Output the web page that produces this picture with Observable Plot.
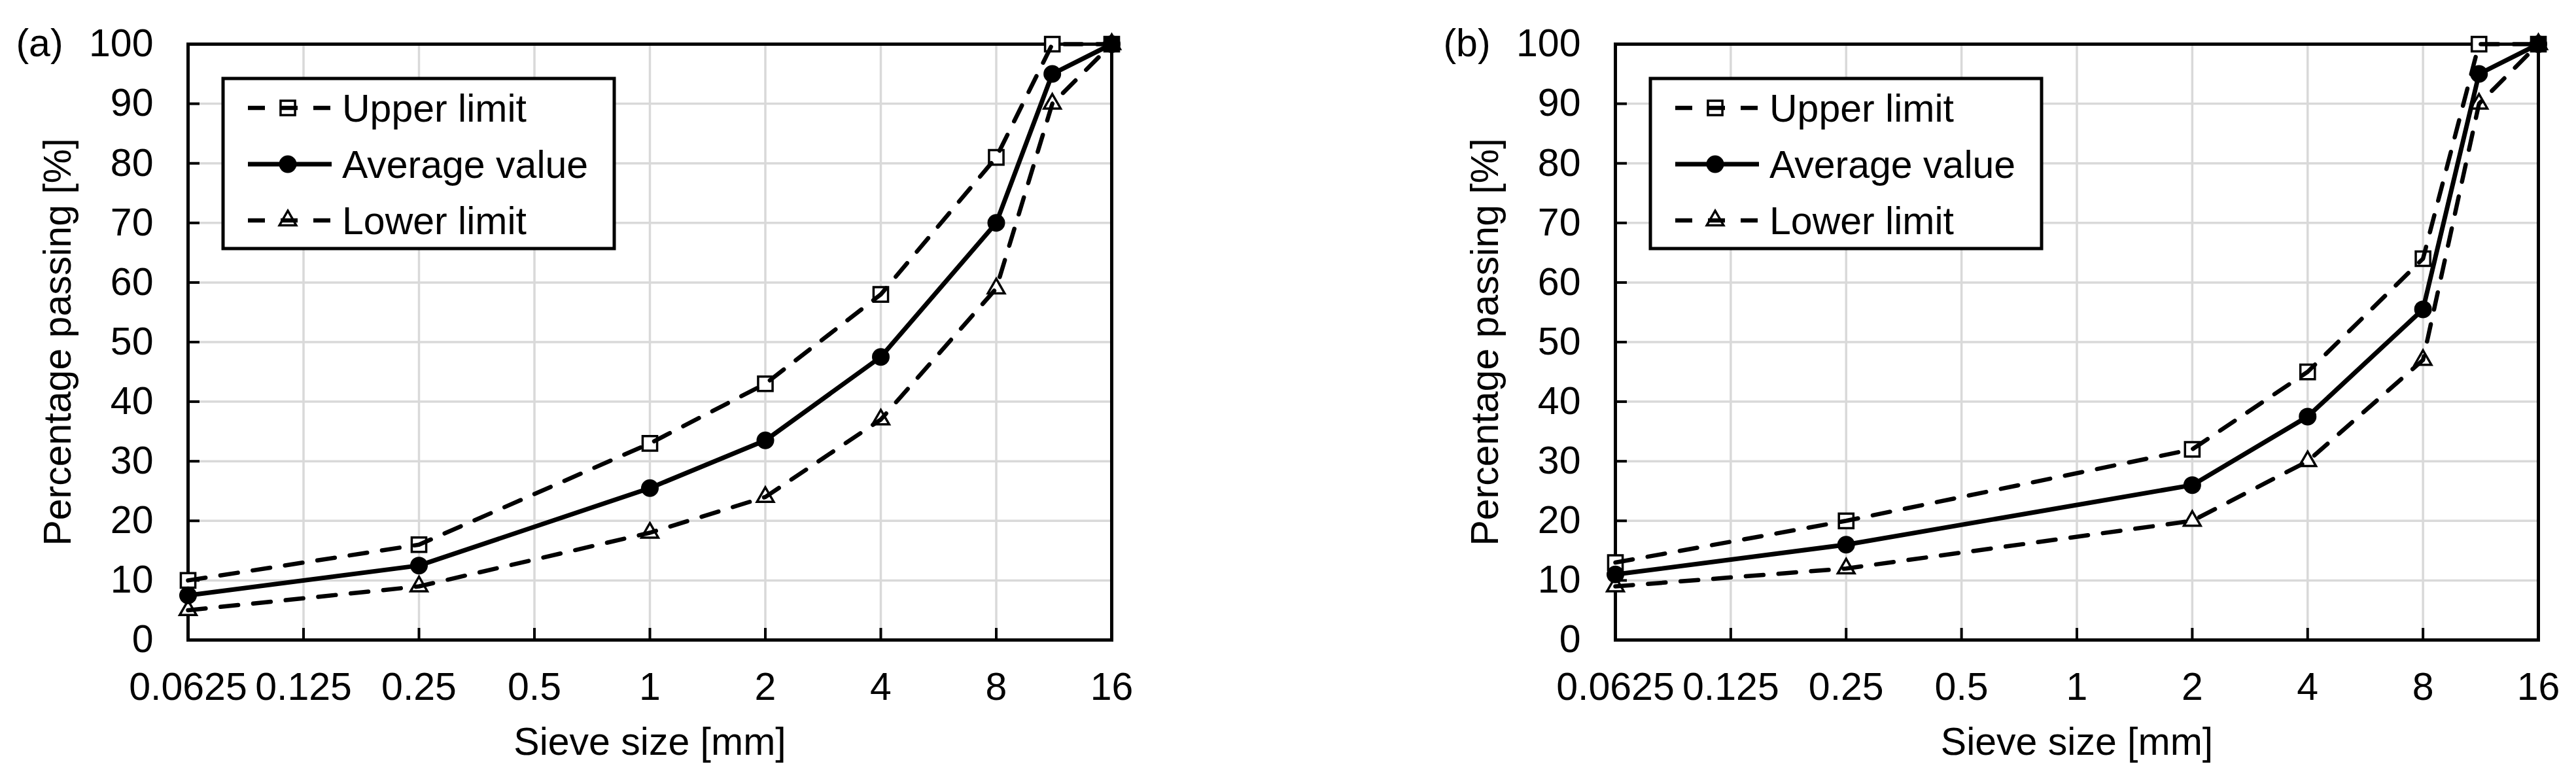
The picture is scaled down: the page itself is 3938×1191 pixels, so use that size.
<!DOCTYPE html>
<html>
<head>
<meta charset="utf-8">
<script src="https://cdn.jsdelivr.net/npm/d3@7"></script>
<script src="https://cdn.jsdelivr.net/npm/@observablehq/plot@0.6"></script>
<style>
  html, body { margin: 0; padding: 0; background: #fff; }
  #wrap { position: relative; width: 3938px; height: 1191px; overflow: hidden; background: #fff; }
  #wrap > div { position: absolute; top: 0; }
</style>
</head>
<body>
<div id="wrap">
  <div id="pa" style="left:0px"></div>
  <div id="pb" style="left:1969px"></div>
</div>
<script>
// ---------- data ----------
const xTicks = [0.0625, 0.125, 0.25, 0.5, 1, 2, 4, 8, 16];
const xTickLabels = ["0.0625", "0.125", "0.25", "0.5", "1", "2", "4", "8", "16"];
const yTicks = [0, 10, 20, 30, 40, 50, 60, 70, 80, 90, 100];
const yTickLabels = ["0", "10", "20", "30", "40", "50", "60", "70", "80", "90", "100"];

const sieveA   = [0.0625, 0.25, 1, 2, 4, 8, 11.2, 16];
const upperA   = [10, 16, 33, 43, 58, 81, 100, 100];
const averageA = [7.5, 12.5, 25.5, 33.5, 47.5, 70, 95, 100];
const lowerA   = [5, 9, 18, 24, 37, 59, 90, 100];

const sieveB   = [0.0625, 0.25, 2, 4, 8, 11.2, 16];
const upperB   = [13, 20, 32, 45, 64, 100, 100];
const averageB = [11, 16, 26, 37.5, 55.5, 95, 100];
const lowerB   = [9, 12, 20, 30, 47, 90, 100];

const legendLabels = ["Upper limit", "Average value", "Lower limit"];
const panelTags = ["(a)", "(b)"];
const xTitle = "Sieve size [mm]";
const yTitle = "Percentage passing [%]";

// ---------- layout ----------
const W = 1969, H = 1191, MT = 67, MB = 213;
const FONT = "'Liberation Sans', Arial, Helvetica, sans-serif";
const FS = 59;
const DASH = "27,23";
const R_SQ = 12.5, R_TRI = 9.5, R_CIR = 13.5;

function makePanel(sieve, upper, average, lower, tag, ML, MR) {
  const fw = W - ML - MR, fh = H - MT - MB;
  const rows = vals => sieve.map((s, i) => ({s, v: vals[i]}));
  const up = rows(upper), av = rows(average), lo = rows(lower);

  const svg = Plot.plot({
    width: W, height: H,
    marginLeft: ML, marginRight: MR, marginTop: MT, marginBottom: MB,
    style: {fontFamily: FONT, fontSize: FS + "px", color: "#000", background: "#fff", overflow: "visible"},
    x: {type: "log", base: 2, domain: [xTicks[0], xTicks[xTicks.length - 1]]},
    y: {domain: [0, 100]},
    marks: [
      Plot.gridX(xTicks, {stroke: "#d9d9d9", strokeOpacity: 1, strokeWidth: 3.5}),
      Plot.gridY(yTicks, {stroke: "#d9d9d9", strokeOpacity: 1, strokeWidth: 3.5}),
      Plot.tickY(yTicks, {y: d => d, insetRight: fw - 18, stroke: "#000", strokeWidth: 4}),
      Plot.tickX(xTicks, {x: d => d, insetTop: fh - 18, stroke: "#000", strokeWidth: 4}),
      Plot.frame({stroke: "#000", strokeWidth: 5}),
      Plot.axisY({ticks: yTicks, tickSize: 0, tickPadding: 53, fontSize: FS, label: null,
        tickFormat: d => yTickLabels[yTicks.indexOf(d)]}),
      Plot.axisX({ticks: xTicks, tickSize: 0, tickPadding: 50, fontSize: FS, label: null,
        tickFormat: d => xTickLabels[xTicks.indexOf(d)]}),
      Plot.text([yTitle], {frameAnchor: "left", rotate: -90, dx: -180, text: d => d,
        textAnchor: "middle", lineAnchor: "bottom", fontSize: FS}),
      Plot.text([xTitle], {frameAnchor: "bottom", dy: 175, text: d => d,
        textAnchor: "middle", lineAnchor: "bottom", fontSize: FS}),
      Plot.text([tag], {frameAnchor: "top-left", dx: -227, text: d => d,
        textAnchor: "middle", lineAnchor: "middle", fontSize: FS}),
      // markers (open)
      Plot.dot(up, {x: "s", y: "v", symbol: "square", r: R_SQ, fill: "#fff", stroke: "#000", strokeWidth: 3.5}),
      Plot.dot(lo, {x: "s", y: "v", symbol: "triangle", r: R_TRI, fill: "#fff", stroke: "#000", strokeWidth: 3.5}),
      // lines
      Plot.line(up, {x: "s", y: "v", stroke: "#000", strokeWidth: 6.5, strokeDasharray: DASH}),
      Plot.line(lo, {x: "s", y: "v", stroke: "#000", strokeWidth: 6.5, strokeDasharray: DASH}),
      Plot.line(av, {x: "s", y: "v", stroke: "#000", strokeWidth: 7}),
      Plot.dot(av, {x: "s", y: "v", symbol: "circle", r: R_CIR, fill: "#000", stroke: "none"})
    ]
  });

  // legend
  const g = d3.select(svg).append("g")
    .attr("font-family", FONT).attr("font-size", FS).attr("text-anchor", "start");
  const lx = ML + 54, ly = MT + 53;
  g.append("rect").attr("x", lx).attr("y", ly).attr("width", 598).attr("height", 260)
    .attr("fill", "#fff").attr("stroke", "#000").attr("stroke-width", 5);
  const syms = [d3.symbolSquare, d3.symbolCircle, d3.symbolTriangle];
  const rs = [R_SQ, R_CIR, R_TRI];
  legendLabels.forEach((label, i) => {
    const cy = ly + 45 + i * 86;
    const dashed = i !== 1;
    const marker = g.append("path")
      .attr("transform", `translate(${lx + 99},${cy})`)
      .attr("d", d3.symbol(syms[i], Math.PI * rs[i] * rs[i])());
    if (dashed) marker.attr("fill", "#fff").attr("stroke", "#000").attr("stroke-width", 3.5);
    else marker.attr("fill", "#000");
    const ln = g.append("line").attr("x1", lx + 38).attr("x2", lx + 166)
      .attr("y1", cy).attr("y2", cy).attr("stroke", "#000")
      .attr("stroke-width", dashed ? 6.5 : 7);
    if (dashed) ln.attr("stroke-dasharray", "26,24");
    else marker.raise();
    g.append("text").attr("x", lx + 182).attr("y", cy).attr("dy", "0.35em")
      .attr("text-anchor", "start").attr("fill", "#000").text(label);
  });
  return svg;
}

document.getElementById("pa").appendChild(makePanel(sieveA, upperA, averageA, lowerA, panelTags[0], 287, 270));
document.getElementById("pb").appendChild(makePanel(sieveB, upperB, averageB, lowerB, panelTags[1], 500, 58));
</script>
</body>
</html>
